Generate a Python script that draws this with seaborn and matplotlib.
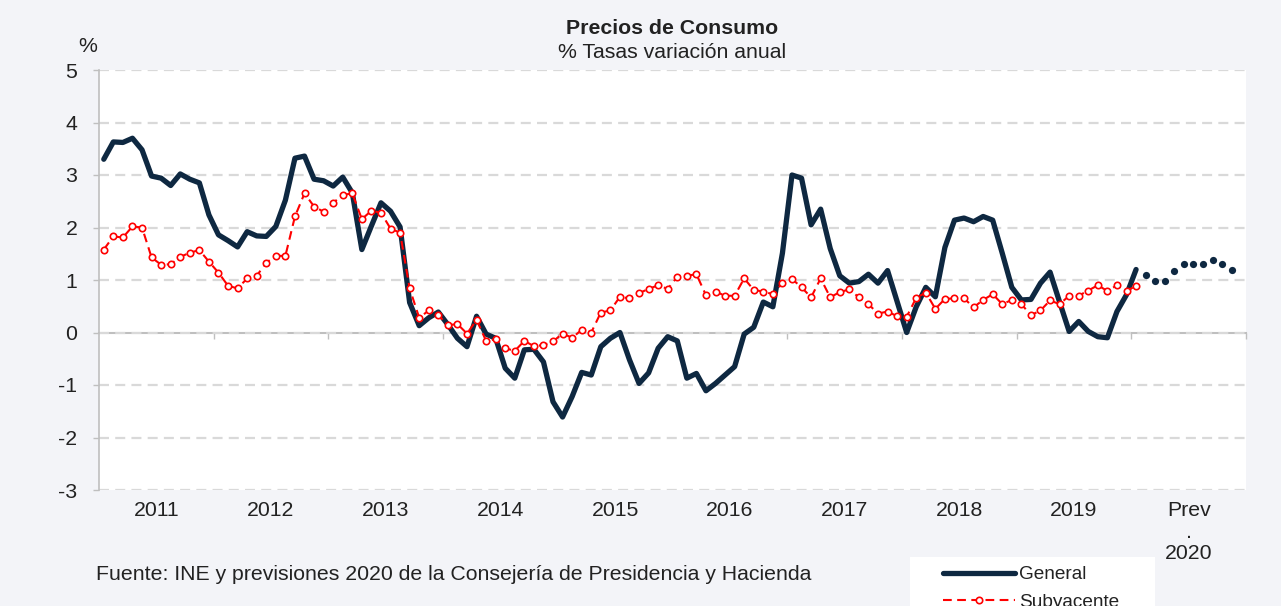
import numpy as np
import pandas as pd
import matplotlib
matplotlib.use("Agg")
import matplotlib.pyplot as plt
from matplotlib.patches import Rectangle
import seaborn as sns

# Monthly year-on-year rates, Jan 2011 .. Jan 2020 (observed)
general = [
    3.30, 3.63, 3.62, 3.70, 3.48, 2.98, 2.94, 2.80, 3.02, 2.92, 2.85, 2.24,
    1.86, 1.75, 1.63, 1.92, 1.84, 1.83, 2.02, 2.52, 3.32, 3.36, 2.92, 2.89,
    2.79, 2.96, 2.66, 1.58, 2.03, 2.47, 2.31, 2.01, 0.57, 0.13, 0.28, 0.39,
    0.15, -0.11, -0.27, 0.31, -0.03, -0.11, -0.68, -0.87, -0.33, -0.32, -0.56, -1.32,
    -1.61, -1.22, -0.76, -0.81, -0.27, -0.11, 0.00, -0.52, -0.97, -0.77, -0.30, -0.08,
    -0.16, -0.87, -0.78, -1.11, -0.97, -0.81, -0.65, -0.03, 0.10, 0.58, 0.49, 1.51,
    3.00, 2.94, 2.05, 2.35, 1.60, 1.08, 0.94, 0.97, 1.11, 0.94, 1.18, 0.59,
    0.00, 0.49, 0.86, 0.68, 1.62, 2.14, 2.18, 2.11, 2.21, 2.14, 1.51, 0.86,
    0.62, 0.63, 0.94, 1.15, 0.58, 0.02, 0.21, 0.02, -0.08, -0.10, 0.40, 0.72,
    1.20,
]
subyacente = [
    1.58, 1.83, 1.81, 2.02, 2.00, 1.43, 1.29, 1.30, 1.44, 1.52, 1.57, 1.35,
    1.14, 0.89, 0.84, 1.03, 1.08, 1.33, 1.46, 1.46, 2.21, 2.65, 2.40, 2.30,
    2.47, 2.62, 2.65, 2.16, 2.32, 2.28, 1.98, 1.90, 0.84, 0.28, 0.42, 0.33,
    0.14, 0.16, -0.02, 0.24, -0.16, -0.13, -0.30, -0.35, -0.16, -0.26, -0.24, -0.17,
    -0.02, -0.10, 0.05, 0.00, 0.38, 0.42, 0.68, 0.65, 0.75, 0.83, 0.90, 0.83,
    1.06, 1.08, 1.11, 0.71, 0.78, 0.70, 0.70, 1.03, 0.81, 0.78, 0.73, 0.94,
    1.02, 0.86, 0.67, 1.03, 0.67, 0.77, 0.82, 0.67, 0.54, 0.36, 0.40, 0.31,
    0.30, 0.66, 0.76, 0.45, 0.64, 0.65, 0.65, 0.48, 0.62, 0.73, 0.54, 0.62,
    0.54, 0.33, 0.42, 0.61, 0.54, 0.70, 0.70, 0.80, 0.90, 0.79, 0.90, 0.79,
    0.89,
]
# 2020 forecast (Feb .. Nov 2020)
prevision = [1.10, 0.99, 0.99, 1.18, 1.30, 1.30, 1.30, 1.39, 1.30, 1.19]

year_labels = ["2011", "2012", "2013", "2014", "2015", "2016", "2017",
               "2018", "2019", "Prev\n.\n2020"]
y_ticks = [-3, -2, -1, 0, 1, 2, 3, 4, 5]

df = pd.DataFrame({"mes": np.arange(len(general)),
                   "General": general, "Subyacente": subyacente})
df_prev = pd.DataFrame({"mes": np.arange(len(general), len(general) + len(prevision)),
                        "valor": prevision})

navy = "#0E2841"
red = "#FF0000"
bg = "#F3F4F8"
axis_grey = "#BFBFBF"
txt = "#222222"

sns.set_theme(style="white")
plt.rcParams["font.family"] = ["Liberation Sans", "DejaVu Sans"]

W, H = 1281, 606
fig = plt.figure(figsize=(W / 100, H / 100), dpi=100, facecolor=bg)
ax = fig.add_axes([99 / W, 116 / H, 1147 / W, 420 / H])
ax.set_facecolor("white")

sns.lineplot(data=df, x="mes", y="General", ax=ax, color=navy, linewidth=3.8,
             solid_joinstyle="round", solid_capstyle="round", label="General", zorder=3)
sns.lineplot(data=df_prev, x="mes", y="valor", ax=ax, color=navy, linestyle="none",
             marker="o", markersize=5.2, markeredgewidth=0, markerfacecolor=navy, zorder=3)
sns.lineplot(data=df, x="mes", y="Subyacente", ax=ax, color=red, linewidth=1.5,
             linestyle=(0, (4.2, 2.6)), marker="o", markersize=4.6,
             markerfacecolor="white", markeredgecolor=red, markeredgewidth=1.2,
             label="Subyacente", zorder=4)
if ax.get_legend() is not None:
    ax.get_legend().remove()

n_months = 120
ax.set_xlim(-0.5, n_months - 0.5)
ax.set_ylim(-3, 5)

# dashed horizontal gridlines
ax.set_yticks(y_ticks)
ax.set_yticklabels([str(v) for v in y_ticks])
ax.grid(axis="y", color="#D9D9D9", linewidth=1.6, linestyle=(0, (4.5, 2.8)))
ax.grid(axis="x", visible=False)
ax.set_axisbelow(True)

for s in ["top", "right", "bottom"]:
    ax.spines[s].set_visible(False)
ax.spines["left"].set_color(axis_grey)
ax.spines["left"].set_linewidth(1.2)
ax.tick_params(axis="y", left=True, length=4.5, width=1.0, color=axis_grey,
               labelsize=15.3, labelcolor=txt, pad=11)

# year labels centred in each year block, at the bottom
centers = np.arange(5.5, n_months, 12)
ax.set_xticks(centers)
ax.set_xticklabels(year_labels)
ax.tick_params(axis="x", length=0, labelsize=15.3, labelcolor=txt, pad=8)
for lab in ax.get_xticklabels():
    lab.set_linespacing(1.16)
ax.set_xlabel("")
ax.set_ylabel("")

# horizontal axis crossing at zero with year boundary ticks
zero_axis = ax.secondary_xaxis(3 / 8)
zero_axis.set_xticks(np.arange(11.5, n_months, 12))
zero_axis.tick_params(axis="x", length=4, width=1.0, color=axis_grey, labelbottom=False)
zero_axis.spines["bottom"].set_color(axis_grey)
zero_axis.spines["bottom"].set_linewidth(1.5)

# titles and notes
fig.text(672 / W, 1 - 28 / H, "Precios de Consumo", ha="center", va="center",
         fontsize=15.3, fontweight="bold", color=txt)
fig.text(672 / W, 1 - 53 / H, "% Tasas variación anual", ha="center", va="center",
         fontsize=15.3, color=txt)
fig.text(88 / W, 1 - 46 / H, "%", ha="center", va="center", fontsize=15.3, color=txt)
fig.text(96 / W, 1 - 574 / H,
         "Fuente: INE y previsiones 2020 de la Consejería de Presidencia y Hacienda",
         ha="left", va="center", fontsize=15.3, color=txt)

# legend on a white box, cut by the bottom edge
fig.patches.append(Rectangle((910 / W, 0), 245 / W, 49 / H, transform=fig.transFigure,
                             facecolor="white", edgecolor="none", zorder=0))
handles, labels = ax.get_legend_handles_labels()
fig.legend(handles, labels, loc="upper left", bbox_to_anchor=(943 / W, 1 - 566 / H),
           frameon=False, borderpad=0, borderaxespad=0, handlelength=3.8,
           handletextpad=0.2, labelspacing=0.52, fontsize=13.7, labelcolor=txt)

fig.savefig("out.png", dpi=100, facecolor=bg)
